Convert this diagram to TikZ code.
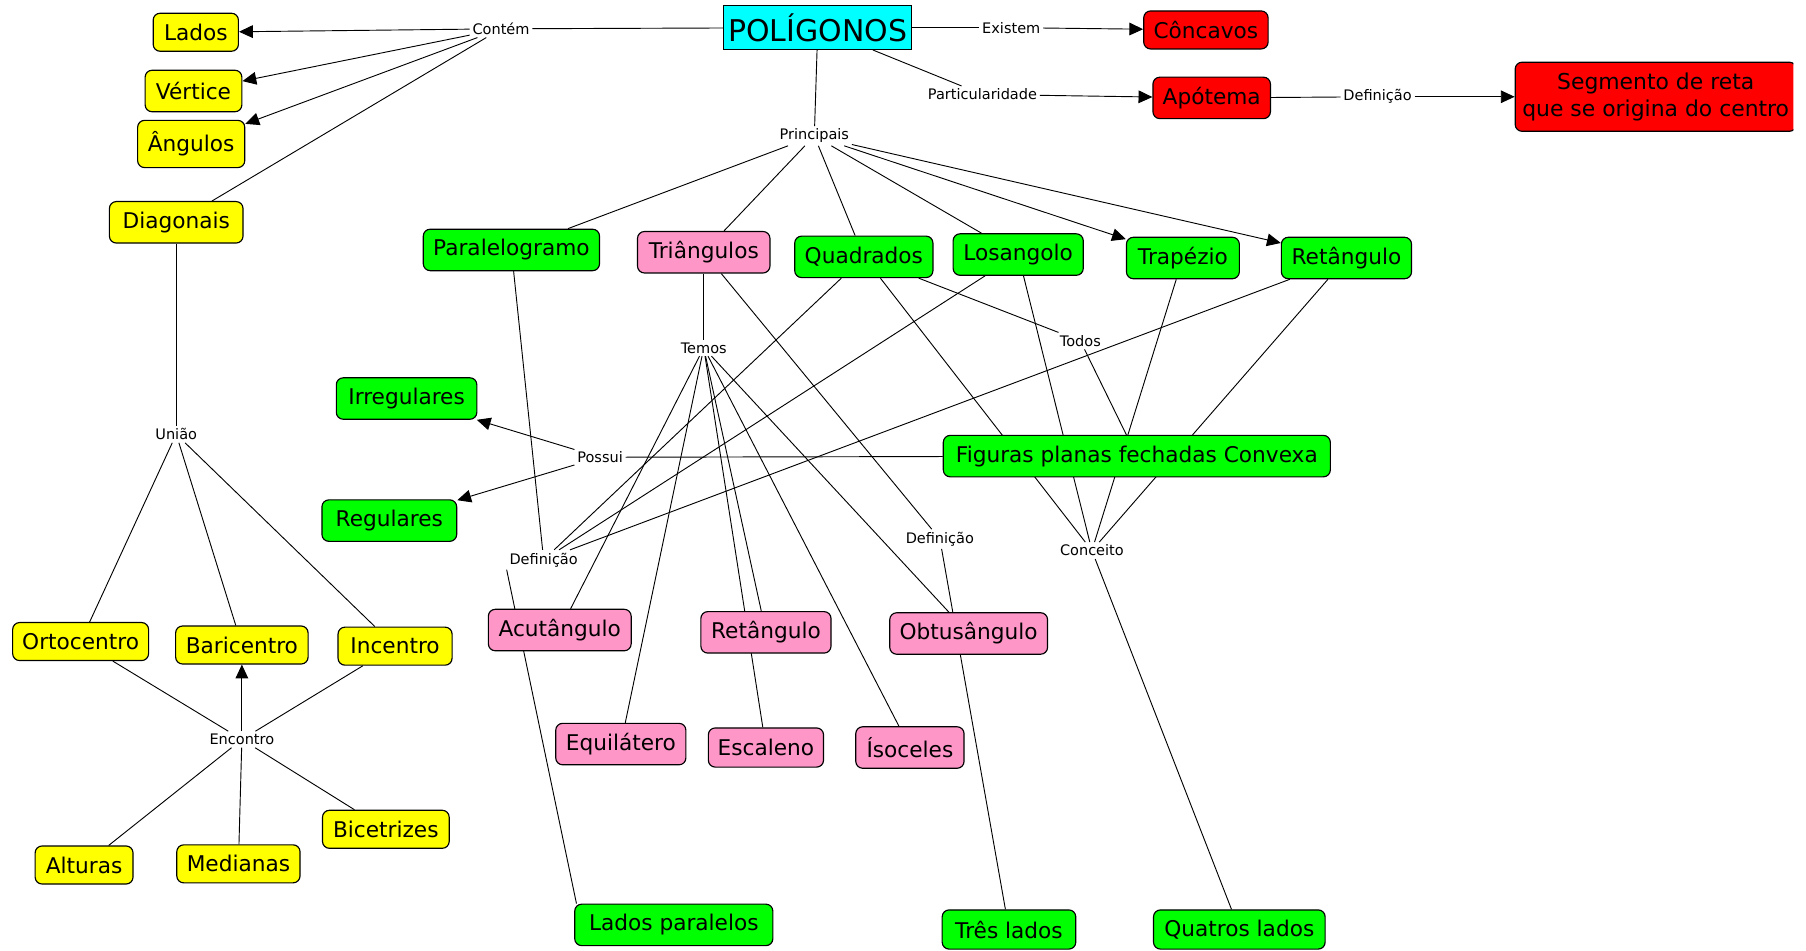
\documentclass[tikz,border=0pt]{standalone}
\usepackage{fontspec}
\setmainfont{DejaVu Sans}
\usetikzlibrary{arrows.meta,backgrounds}
\definecolor{corCiano}{RGB}{0,255,255}
\definecolor{corAmarela}{RGB}{255,255,0}
\definecolor{corVerde}{RGB}{0,255,0}
\definecolor{corRosa}{RGB}{255,150,200}
\definecolor{corVermelha}{RGB}{255,0,0}

\begin{document}
\begin{tikzpicture}[x=0.5pt, y=-0.5pt, line width=0.5pt,
		conceito/.style={draw, rounded corners=3pt, minimum height=18pt, inner xsep=2pt, font=\fontsize{9.4}{11}\selectfont},
		amarelo/.style={conceito, fill=corAmarela},
		verde/.style={conceito, fill=corVerde},
		rosa/.style={conceito, fill=corRosa},
		vermelho/.style={conceito, fill=corVermelha},
		frase/.style={inner sep=1pt, font=\fontsize{6.3}{7}\selectfont},
		seta/.style={-{Triangle[length=6pt,width=5.5pt]}}]
		\useasboundingbox (0,0) rectangle (1568,825);
		
		%raiz
		\node[draw, fill=corCiano, minimum height=17pt, inner xsep=2pt, font=\fontsize{13}{15}\selectfont] (poligonos) at (710,24) {POLÍGONOS};
		\node[frase] (contem) at (435,25) {Contém};
		\node[frase] (existem) at (878,24) {Existem};
		\node[frase] (particular) at (853,82) {Particularidade};
		\node[frase] (principais) at (707,118) {Principais};
		\node[frase] (defapo) at (1196,84) {Definição};
		\node[vermelho, minimum width=54pt, minimum height=16.5pt] (concavos) at (1047,26) {Côncavos};
		\node[vermelho, minimum width=51pt] (apotema) at (1052,85) {Apótema};
		\begin{scope}
			\clip (0,0) rectangle (1557,825);
			\node[vermelho, anchor=west, align=center, minimum width=122pt, minimum height=30pt, font=\fontsize{9.5}{11.5}\selectfont] (segmento) at (1315,84) {Segmento de reta\\que se origina do centro};
		\end{scope}
		
		%elementos
		\node[amarelo, minimum width=37pt, minimum height=16.5pt] (lados) at (170,28) {Lados};
		\node[amarelo, minimum width=42pt] (vertice) at (168,79) {Vértice};
		\node[amarelo, minimum width=46.5pt, minimum height=20.5pt] (angulos) at (166,125) {Ângulos};
		\node[amarelo, minimum width=58pt] (diagonais) at (153,193) {Diagonais};
		\node[frase] (uniao) at (153,377) {União};
		\node[amarelo, minimum width=59pt, minimum height=16.5pt] (ortocentro) at (70,557) {Ortocentro};
		\node[amarelo, minimum width=57.5pt, minimum height=16.5pt] (baricentro) at (210,560) {Baricentro};
		\node[amarelo, minimum width=49.5pt, minimum height=16.5pt] (incentro) at (343,561) {Incentro};
		\node[frase] (encontro) at (210,642) {Encontro};
		\node[amarelo, minimum width=42.5pt, minimum height=16.5pt] (alturas) at (73,751) {Alturas};
		\node[amarelo, minimum width=53.5pt, minimum height=16.5pt] (medianas) at (207,750) {Medianas};
		\node[amarelo, minimum width=55pt, minimum height=16.5pt] (bicetrizes) at (335,720) {Bicetrizes};
		
		%principais
		\node[verde, minimum width=76.5pt] (paralelogramo) at (444,217) {Paralelogramo};
		\node[rosa, minimum width=57.5pt] (triangulos) at (611,219) {Triângulos};
		\node[verde, minimum width=60pt] (quadrados) at (750,223) {Quadrados};
		\node[verde, minimum width=56.5pt] (losangolo) at (884,221) {Losangolo};
		\node[verde, minimum width=49pt] (trapezio) at (1027,224) {Trapézio};
		\node[verde, minimum width=56.5pt] (retverde) at (1169,224) {Retângulo};
		
		\node[frase] (temos) at (611,302) {Temos};
		\node[frase] (todos) at (938,296) {Todos};
		\node[verde, minimum width=61pt] (irregulares) at (353,346) {Irregulares};
		\node[verde, minimum width=58.5pt] (regulares) at (338,452) {Regulares};
		\node[frase] (possui) at (521,397) {Possui};
		\node[verde, minimum width=168pt] (figuras) at (987,396) {Figuras planas fechadas Convexa};
		\node[frase] (defesq) at (472,486) {Definição};
		\node[frase] (defmeio) at (816,468) {Definição};
		\node[frase] (conceito) at (948,478) {Conceito};
		
		%triangulos
		\node[rosa, minimum width=62pt] (acutangulo) at (486,547) {Acutângulo};
		\node[rosa, minimum width=56.5pt] (retrosa) at (665,549) {Retângulo};
		\node[rosa, minimum width=68.5pt] (obtusangulo) at (841,550) {Obtusângulo};
		\node[rosa, minimum width=56.5pt] (equilatero) at (539,646) {Equilátero};
		\node[rosa, minimum width=50pt, minimum height=17pt] (escaleno) at (665,649) {Escaleno};
		\node[rosa, minimum width=47pt] (isoceles) at (790,649) {Ísoceles};
		
		%lados
		\node[verde, minimum width=86pt] (ladospar) at (585,803) {Lados paralelos};
		\node[verde, minimum width=58pt, minimum height=17pt] (treslados) at (876,807) {Três lados};
		\node[verde, minimum width=74.5pt, minimum height=17pt] (quatros) at (1076,807) {Quatros lados};
		
		\begin{pgfonlayer}{background}
			%topo
			\draw (poligonos) -- (contem);
			\draw[seta] (contem) -- (lados);
			\draw[seta] (contem) -- (vertice);
			\draw[seta] (contem) -- (angulos);
			\draw (contem) -- (diagonais);
			\draw (poligonos) -- (existem);
			\draw[seta] (existem) -- (concavos);
			\draw (poligonos) -- (particular);
			\draw[seta] (particular) -- (apotema);
			\draw (apotema) -- (defapo);
			\draw[seta] (defapo) -- (segmento);
			\draw (poligonos) -- (principais);
			\foreach \alvo in {paralelogramo, triangulos, quadrados, losangolo}{
				\draw (principais) -- (\alvo);
			}
			\draw[seta] (principais) -- (trapezio);
			\draw[seta] (principais) -- (retverde);
			
			%diagonais
			\draw (diagonais) -- (uniao);
			\foreach \alvo in {ortocentro, baricentro, incentro}{
				\draw (uniao) -- (\alvo);
			}
			\foreach \alvo in {ortocentro, incentro, alturas, medianas, bicetrizes}{
				\draw (encontro) -- (\alvo);
			}
			\draw[seta] (encontro) -- (baricentro);
			
			%triangulos
			\draw (triangulos) -- (temos);
			\foreach \alvo in {acutangulo, equilatero, retrosa, escaleno, isoceles, obtusangulo}{
				\draw (temos) -- (\alvo);
			}
			\draw (triangulos) -- (defmeio);
			\draw (defmeio) -- (treslados);
			
			%quadrilateros
			\foreach \alvo in {paralelogramo, quadrados, losangolo, retverde}{
				\draw (\alvo) -- (defesq);
			}
			\draw (defesq.south west) -- ([xshift=1pt]ladospar.north west);
			\foreach \alvo in {quadrados, losangolo, trapezio, retverde}{
				\draw (\alvo) -- (conceito);
			}
			\draw (conceito) -- (quatros);
			\draw (quadrados) -- (todos);
			\draw (todos) -- (figuras);
			
			%possui
			\draw (figuras) -- (possui);
			\draw[seta] (possui) -- (irregulares);
			\draw[seta] (possui) -- (regulares);
		\end{pgfonlayer}
\end{tikzpicture}
\end{document}
